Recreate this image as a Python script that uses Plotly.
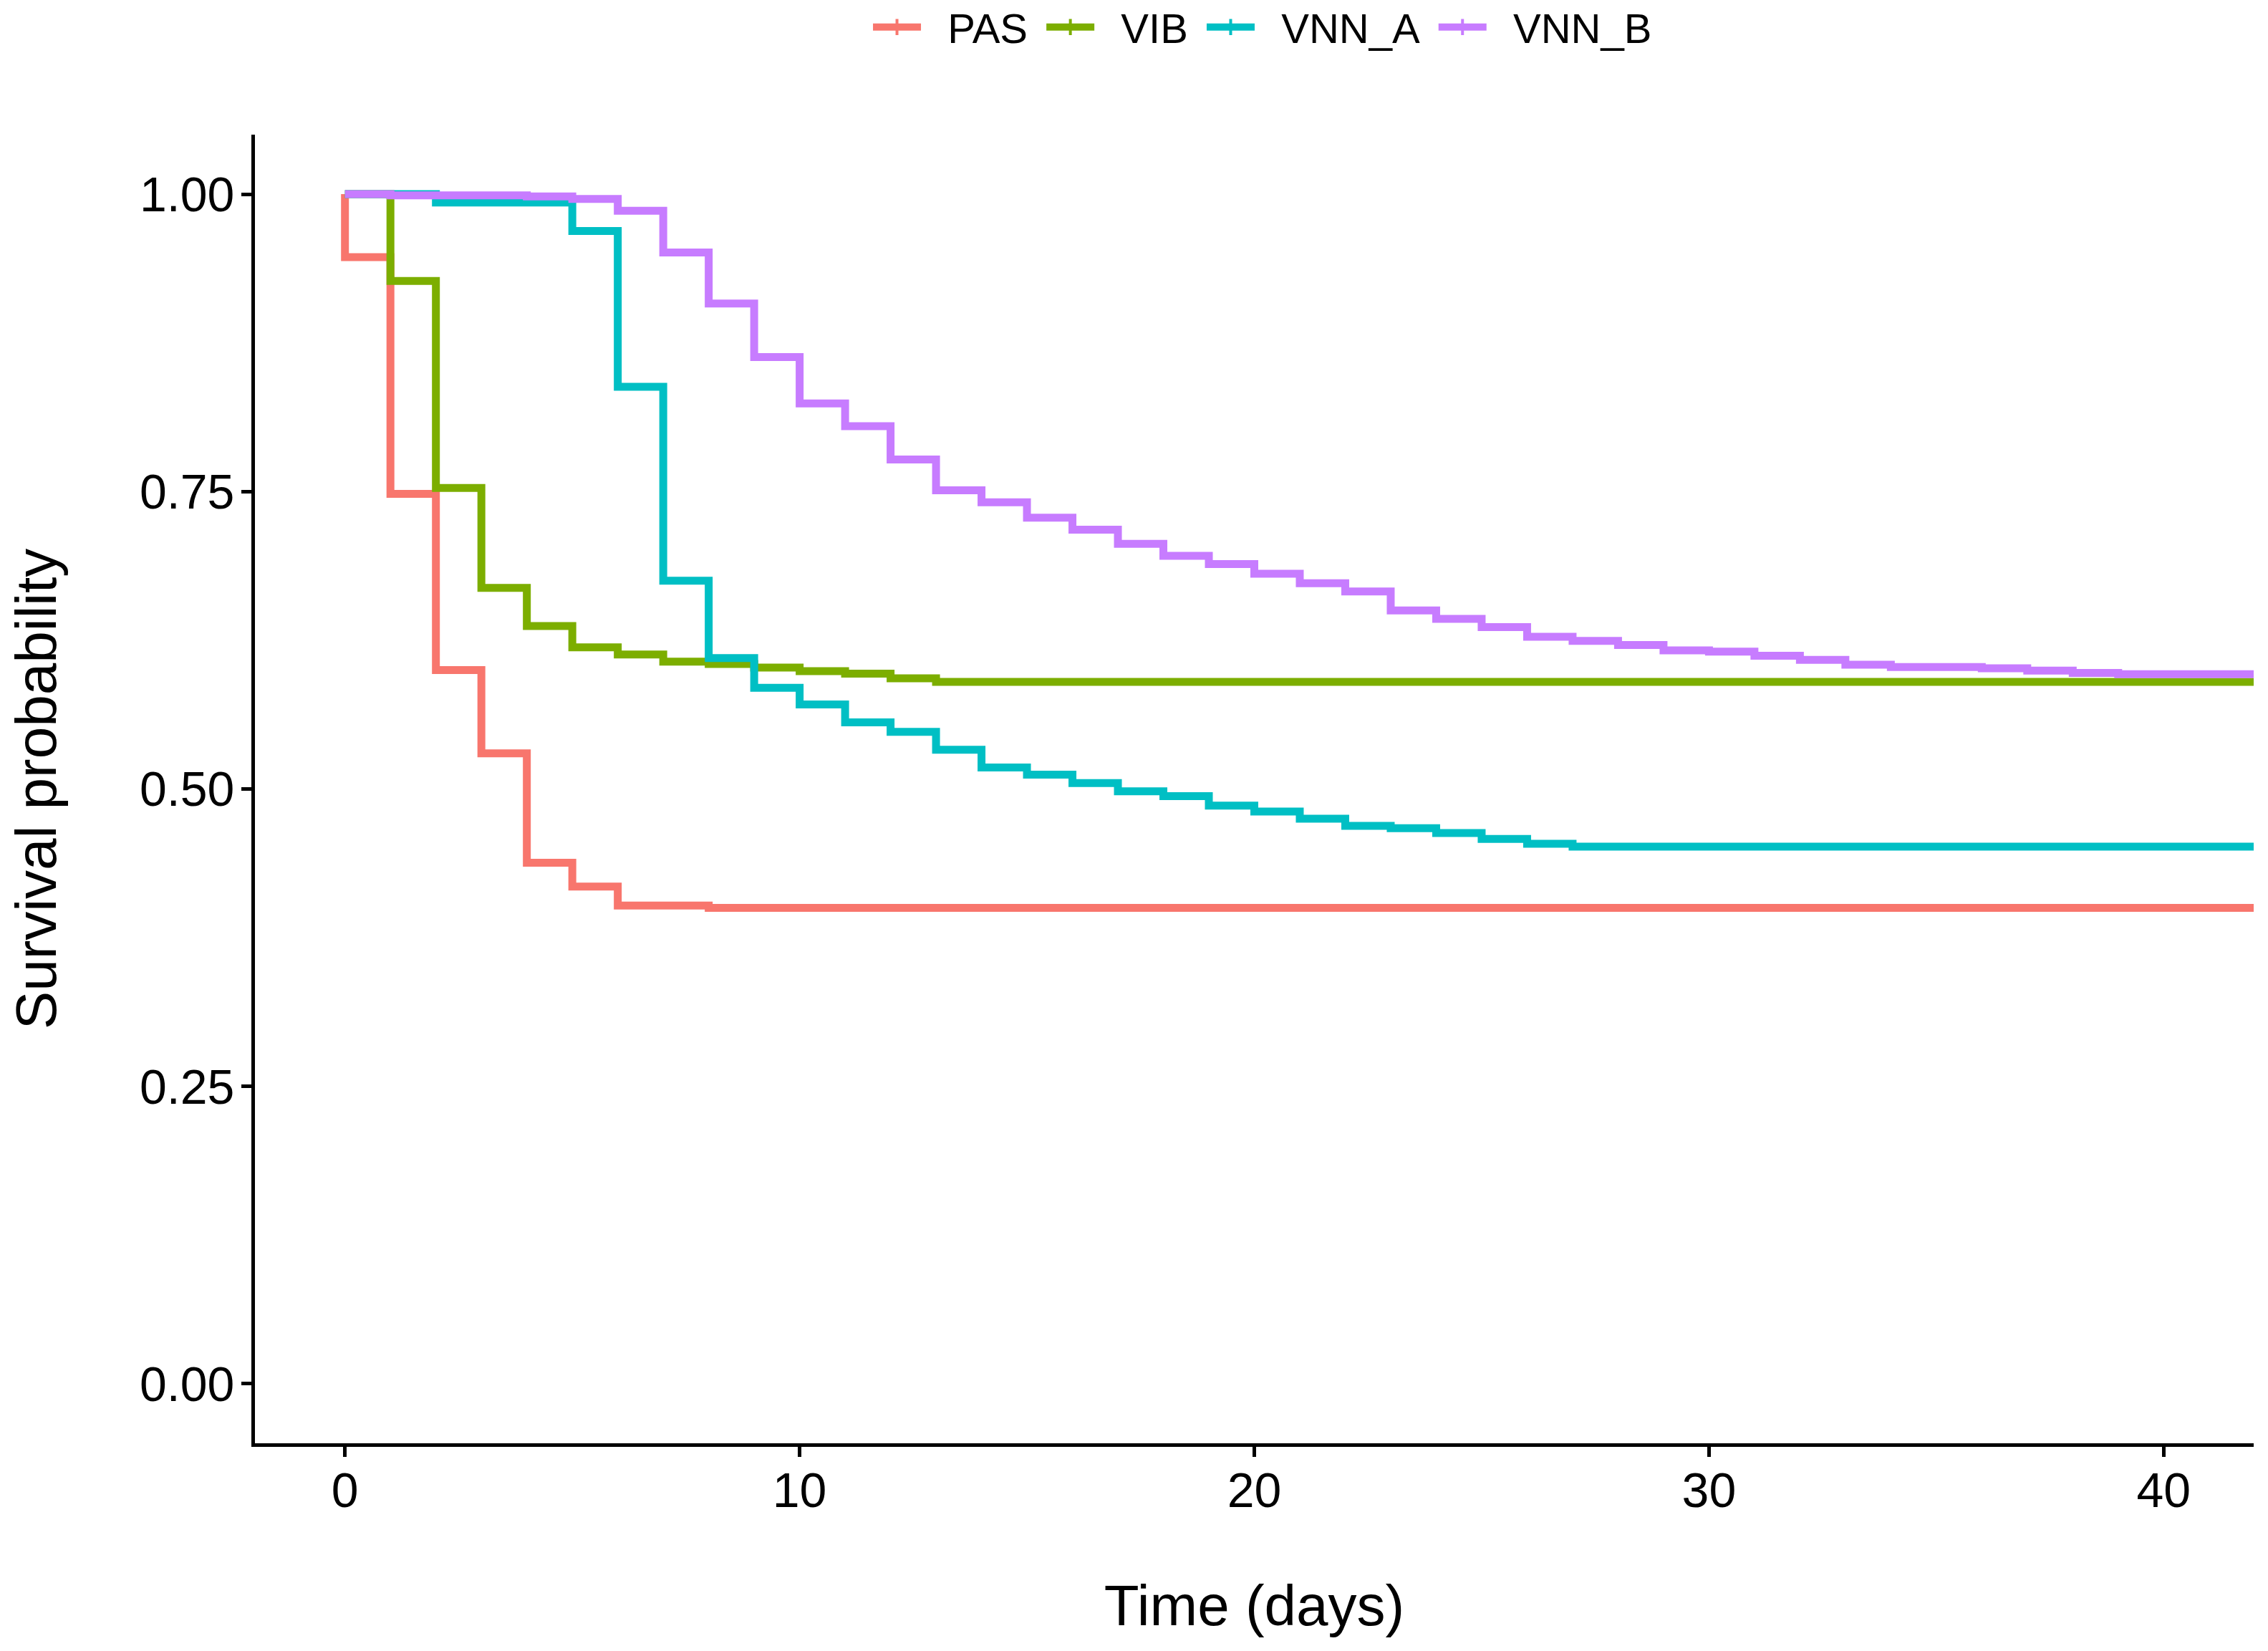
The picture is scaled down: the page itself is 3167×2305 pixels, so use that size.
import plotly.graph_objects as go

# Kaplan-Meier step values
pas_t = [0, 0, 1, 2, 3, 4, 5, 6, 8, 42]
pas_s = [1.0, 0.947, 0.748, 0.600, 0.530, 0.438, 0.418, 0.402, 0.400, 0.400]

vib_t = [0, 1, 2, 3, 4, 5, 6, 7, 8, 9, 10, 11, 12, 13, 42]
vib_s = [1.0, 0.927, 0.753, 0.669, 0.637, 0.619, 0.613, 0.607, 0.605, 0.602,
         0.599, 0.597, 0.593, 0.590, 0.590]

vnna_t = [0, 2, 5, 6, 7, 8, 9, 10, 11, 12, 13, 14, 15, 16, 17, 18, 19, 20,
          21, 22, 23, 24, 25, 26, 27, 42]
vnna_s = [1.0, 0.993, 0.969, 0.838, 0.675, 0.610, 0.585, 0.571, 0.556, 0.548,
          0.533, 0.518, 0.512, 0.505, 0.498, 0.494, 0.486, 0.481, 0.475, 0.469,
          0.467, 0.463, 0.458, 0.454, 0.4515, 0.4515]

vnnb_t = [0, 1, 4, 5, 6, 7, 8, 9, 10, 11, 12, 13, 14, 15, 16, 17, 18, 19, 20,
          21, 22, 23, 24, 25, 26, 27, 28, 29, 30, 31, 32, 33, 34, 36, 37, 38,
          39, 42]
vnnb_s = [1.0, 0.999, 0.998, 0.996, 0.986, 0.951, 0.908, 0.863, 0.824, 0.805,
          0.777, 0.751, 0.741, 0.728, 0.718, 0.706, 0.696, 0.689, 0.681, 0.673,
          0.666, 0.650, 0.643, 0.636, 0.628, 0.6245, 0.621, 0.6165, 0.6155,
          0.612, 0.6085, 0.6045, 0.6025, 0.6015, 0.5995, 0.5975, 0.5965, 0.5965]

groups = ["PAS", "VIB", "VNN_A", "VNN_B"]
colors = ["#F8766D", "#7CAE00", "#00BFC4", "#C77CFF"]
series = [(pas_t, pas_s), (vib_t, vib_s), (vnna_t, vnna_s), (vnnb_t, vnnb_s)]

FONT = "Liberation Sans, Arial, sans-serif"
NBSP = "\u00a0"

fig = go.Figure()
for name, col, (t, s) in zip(groups, colors, series):
    # censor tick only on the last point
    sizes = [0] * (len(t) - 1) + [38]
    fig.add_trace(go.Scatter(
        x=t, y=s, name=name, mode="lines+markers", showlegend=False,
        legendgroup=name,
        line=dict(color=col, width=11, shape="hv"),
        marker=dict(symbol="line-ns", size=sizes,
                    line=dict(color=col, width=4)),
        cliponaxis=False,
    ))

# legend keys: line with a censor "+" like survminer
for name, col in zip(groups, colors):
    fig.add_trace(go.Scatter(
        x=[None], y=[None], name=NBSP * 2 + name + NBSP, mode="lines+markers",
        legendgroup=name,
        line=dict(color=col, width=10),
        marker=dict(symbol="line-ns", size=16, line=dict(color=col, width=4)),
    ))

fig.update_layout(
    width=3167, height=2305,
    margin=dict(l=356, r=20, t=188, b=290),
    plot_bgcolor="white", paper_bgcolor="white",
    font=dict(family=FONT, color="black", size=68),
    legend=dict(orientation="h", x=0.507, xanchor="center",
                yref="container", y=0.9835, yanchor="middle",
                font=dict(size=58), itemsizing="trace",
                itemwidth=67, traceorder="normal"),
)
fig.update_xaxes(
    range=[-1.98, 41.98], tickvals=[0, 10, 20, 30, 40],
    showline=True, linecolor="black", linewidth=5,
    ticks="outside", ticklen=14, tickwidth=5, tickcolor="black",
    showgrid=False, zeroline=False, ticklabelstandoff=-12,
    title=dict(text="Time (days)", font=dict(size=80), standoff=98),
)
fig.update_yaxes(
    range=[-0.05, 1.05], tickvals=[0, 0.25, 0.5, 0.75, 1.0],
    tickformat=".2f",
    showline=True, linecolor="black", linewidth=5,
    ticks="outside", ticklen=14, tickwidth=5, tickcolor="black",
    showgrid=False, zeroline=False, ticklabelstandoff=-4,
    title=dict(text="Survival probability", font=dict(size=80), standoff=92),
)

fig.write_html("out.html", config={"displayModeBar": False},
               post_script="document.body.style.margin='0';")
